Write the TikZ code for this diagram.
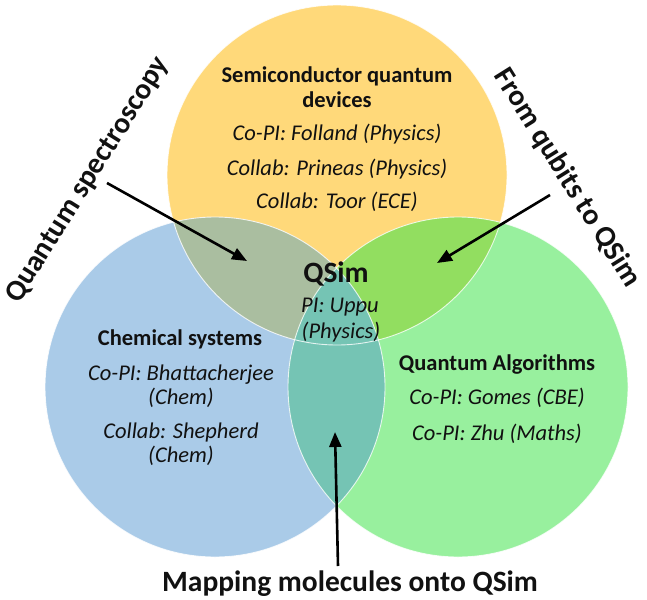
\documentclass[tikz,border=0pt]{standalone}
\usepackage{fontspec}
\setmainfont{Carlito}
\usetikzlibrary{arrows.meta}
\definecolor{cyel}{RGB}{255,217,122}
\definecolor{cblue}{RGB}{170,203,232}
\definecolor{cgreen}{RGB}{152,240,158}
\definecolor{cyb}{RGB}{170,190,160}
\definecolor{cyg}{RGB}{146,222,96}
\definecolor{cbg}{RGB}{117,196,180}
\definecolor{ctext}{RGB}{17,17,17}
\tikzset{
  ttl/.style={font=\bfseries\fontsize{22.5}{24}\selectfont, text=ctext, anchor=base, inner sep=0pt},
  itm/.style={font=\itshape\fontsize{22.5}{24}\selectfont, text=ctext, anchor=base, inner sep=0pt},
  big/.style={font=\bfseries\fontsize{29.5}{31}\selectfont, text=ctext, inner sep=0pt},
  pointer/.style={draw=black, line width=2.6pt, -{Triangle[length=15pt,width=12pt]}},
  rim/.style={draw=white, line width=0.9pt, opacity=0.8}
}
\begin{document}
\begin{tikzpicture}[x=1pt,y=-1pt]
\useasboundingbox (0,0) rectangle (647,599);
\coordinate (Y) at (337,175);
\coordinate (B) at (215,387);
\coordinate (G) at (458,387);
% base circles
\fill[cyel] (Y) circle (170pt);
\fill[cblue] (B) circle (170pt);
\fill[cgreen] (G) circle (170pt);
% overlaps
\begin{scope}\clip (Y) circle (170pt); \fill[cyb] (B) circle (170pt);\end{scope}
\begin{scope}\clip (Y) circle (170pt); \fill[cyg] (G) circle (170pt);\end{scope}
\begin{scope}\clip (B) circle (170pt); \fill[cbg] (G) circle (170pt);\end{scope}
% rims
\draw[rim] (Y) circle (170pt);
\draw[rim] (B) circle (170pt);
\draw[rim] (G) circle (170pt);
% yellow block
\node[ttl] (y1) at (337,83) {Semiconductor quantum};
\node[ttl] (y2) at (337,107) {devices};
\node[itm] (y3) at (337,140) {Co-PI: Folland (Physics)};
\node[itm] (y4) at (337,175) {Collab: Prineas (Physics)};
\node[itm] (y5) at (337,208) {Collab: Toor (ECE)};
% blue block
\node[ttl] (b1) at (180,345) {Chemical systems};
\node[itm] (b2) at (181,380) {Co-PI: Bhattacherjee};
\node[itm] (b3) at (181,404) {(Chem)};
\node[itm] (b4) at (181,438) {Collab: Shepherd};
\node[itm] (b5) at (181,462) {(Chem)};
% green block
\node[ttl] (g1) at (497,370) {Quantum Algorithms};
\node[itm] (g2) at (497,404) {Co-PI: Gomes (CBE)};
\node[itm] (g3) at (497,440) {Co-PI: Zhu (Maths)};
% centre
\node[big, anchor=base] (q1) at (336,282) {QSim};
\node[itm] (q2) at (340,312) {PI: Uppu};
\node[itm] (q3) at (341,338) {(Physics)};
% outer labels
\node[big, rotate=58] (lspec) at (88,180) {Quantum spectroscopy};
\node[big, rotate=-58] (lqub) at (567,178) {From qubits to QSim};
\node[big, anchor=base] (lmap) at (350,591) {Mapping molecules onto QSim};
% arrows
\coordinate (aL0) at (107,183);
\coordinate (aL1) at (247,261);
\coordinate (aR0) at (550,195);
\coordinate (aR1) at (437,263);
\coordinate (aB0) at (338,566);
\coordinate (aB1) at (335,432);
\draw[pointer] (aL0) -- (aL1);
\draw[pointer] (aR0) -- (aR1);
\draw[pointer] (aB0) -- (aB1);
\end{tikzpicture}
\end{document}
